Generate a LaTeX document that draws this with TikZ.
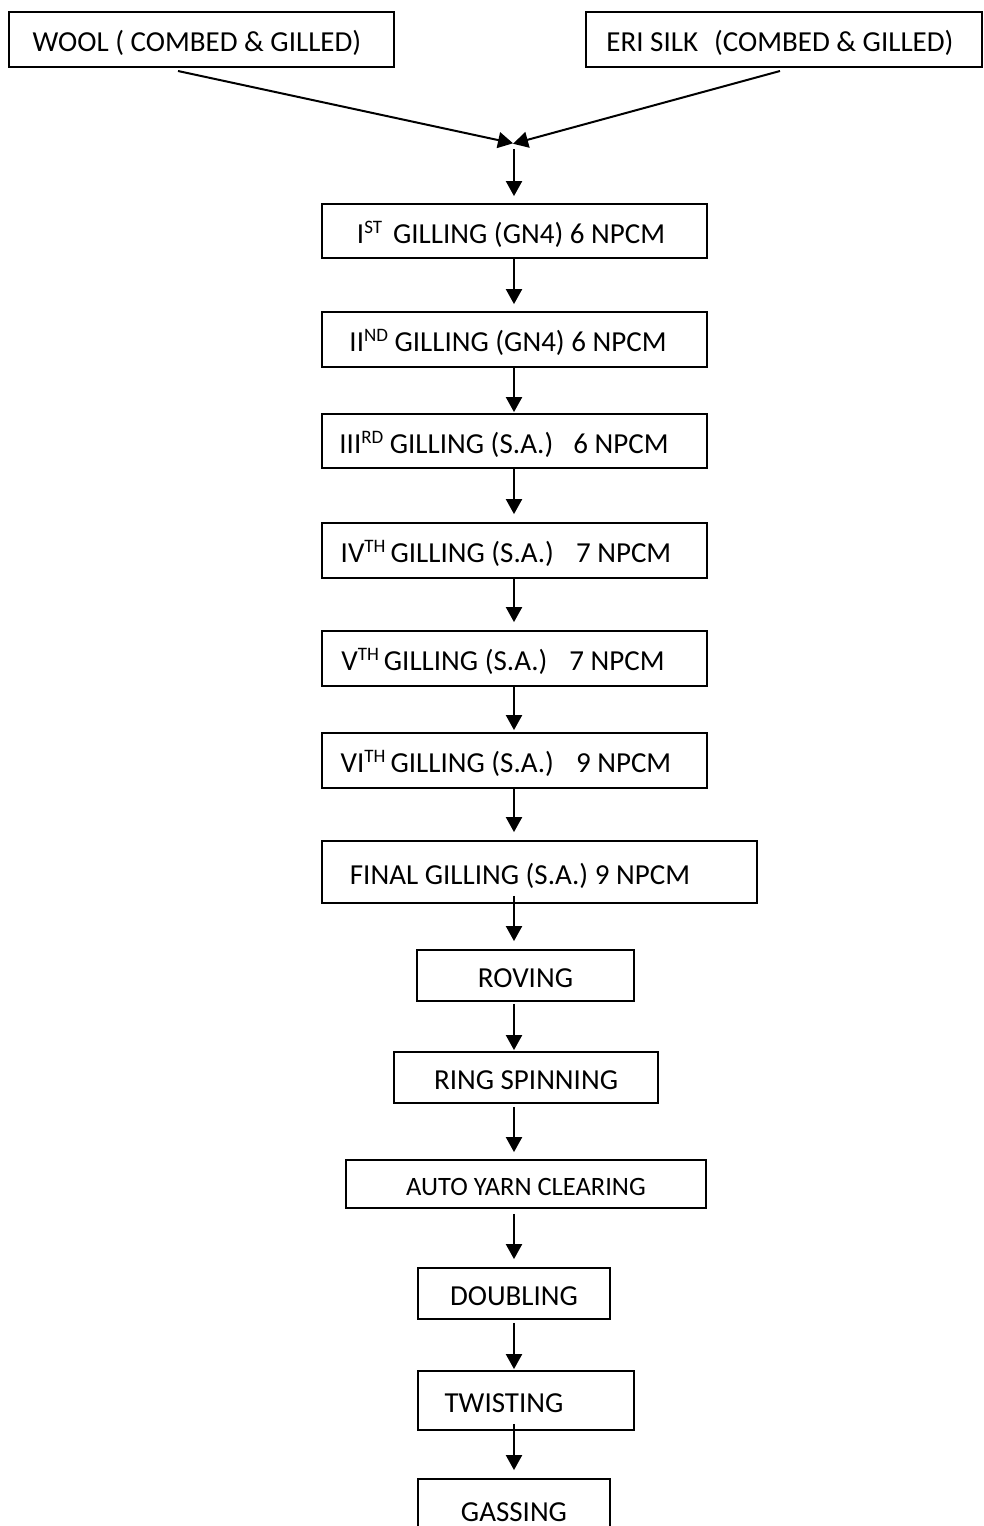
\documentclass[tikz,border=0pt]{standalone}
\usepackage{fontspec}
\setmainfont{Carlito}
\usetikzlibrary{arrows.meta}

% raised ordinal suffix (ST, ND, RD, TH)
\newcommand\ordsup[1]{\raisebox{10pt}{\fontsize{19}{19}\selectfont #1}}

\tikzset{
  stage/.style={draw, line width=1.8pt, inner sep=0pt,
    text height=24pt, text depth=0pt,
    font=\fontsize{29}{34}\selectfont},
  flow/.style={line width=2pt, -{Triangle[length=15pt,width=16pt]}},
}

\begin{document}
\begin{tikzpicture}[x=1pt, y=-1pt]
\useasboundingbox (0,0) rectangle (983,1526);

% raw materials
\node[stage, minimum width=385pt, minimum height=55pt] (wool) at (201.5,39.5)
  {WOOL ( COMBED \& GILLED)\kern9pt};
\node[stage, minimum width=396pt, minimum height=55pt] (eri) at (784,39.5)
  {ERI SILK\hspace{16pt}(COMBED \& GILLED)\kern8pt};

% gilling passages
\node[stage, minimum width=385pt, minimum height=54pt] (g1) at (514.5,231)
  {I\ordsup{ST}\hspace{11pt}GILLING (GN4) 6 NPCM\kern7pt};
\node[stage, minimum width=385pt, minimum height=55pt] (g2) at (514.5,339.5)
  {II\ordsup{ND} GILLING (GN4) 6 NPCM\kern13pt};
\node[stage, minimum width=385pt, minimum height=54pt] (g3) at (514.5,441)
  {III\ordsup{RD} GILLING (S.A.)\hspace{20pt}6 NPCM\kern21pt};
\node[stage, minimum width=385pt, minimum height=55pt] (g4) at (514.5,550.5)
  {IV\ordsup{TH}\hspace{5pt}GILLING (S.A.)\hspace{22pt}7 NPCM\kern17pt};
\node[stage, minimum width=385pt, minimum height=55pt] (g5) at (514.5,658.5)
  {V\ordsup{TH}\hspace{5pt}GILLING (S.A.)\hspace{22pt}7 NPCM\kern23pt};
\node[stage, minimum width=385pt, minimum height=55pt] (g6) at (514.5,760.5)
  {VI\ordsup{TH}\hspace{5pt}GILLING (S.A.)\hspace{22pt}9 NPCM\kern17pt};
\node[stage, minimum width=435pt, minimum height=62pt] (g7) at (539.5,872)
  {FINAL GILLING (S.A.) 9 NPCM\kern39pt};

% spinning and finishing
\node[stage, minimum width=217pt, minimum height=51pt] (rov) at (525.5,975.5) {ROVING};
\node[stage, minimum width=264pt, minimum height=51pt] (ring) at (526,1077.5) {RING SPINNING};
\node[stage, minimum width=360pt, minimum height=48pt,
      font=\fontsize{26.5}{31}\selectfont, text height=22pt] (auto) at (526,1184)
  {AUTO YARN CLEARING};
\node[stage, minimum width=192pt, minimum height=51pt] (dbl) at (514,1293.5) {DOUBLING};
\node[stage, minimum width=216pt, minimum height=59pt] (twi) at (526,1400.5)
  {TWISTING\kern44pt};
\node[stage, minimum width=192pt, minimum height=61pt] (gas) at (514,1509.5) {GASSING};

% merging of the two slivers
\coordinate (axis) at (514,0);
\coordinate (woolout) at (178,71);
\coordinate (eriout) at (780,71);
\coordinate (merge) at (514,143.5);
\coordinate (mergeout) at (514,149);
\draw[flow, shorten >=1pt] (woolout) -- (merge);
\draw[flow, shorten >=-1pt] (eriout) -- (merge);
\draw[flow] (mergeout) -- ([shift={(0,-7)}]g1.north -| axis);

% process line
\draw[flow, shorten >=7pt] (g1.south -| axis) -- (g2.north -| axis);
\draw[flow, shorten >=1pt] (g2.south -| axis) -- (g3.north -| axis);
\draw[flow, shorten >=8pt] (g3.south -| axis) -- (g4.north -| axis);
\draw[flow, shorten >=8pt] (g4.south -| axis) -- (g5.north -| axis);
\draw[flow, shorten >=2pt] (g5.south -| axis) -- (g6.north -| axis);
\draw[flow, shorten >=8pt] (g6.south -| axis) -- (g7.north -| axis);
\draw[flow, shorten <=-8pt, shorten >=8pt] (g7.south -| axis) -- (rov.north -| axis);
\draw[flow, shorten <=2pt, shorten >=1pt] (rov.south -| axis) -- (ring.north -| axis);
\draw[flow, shorten <=3pt, shorten >=7pt] (ring.south -| axis) -- (auto.north -| axis);
\draw[flow, shorten <=5pt, shorten >=8pt] (auto.south -| axis) -- (dbl.north -| axis);
\draw[flow, shorten <=3pt, shorten >=1pt] (dbl.south -| axis) -- (twi.north -| axis);
\draw[flow, shorten <=-7pt, shorten >=8pt] (twi.south -| axis) -- (gas.north -| axis);
\end{tikzpicture}
\end{document}
